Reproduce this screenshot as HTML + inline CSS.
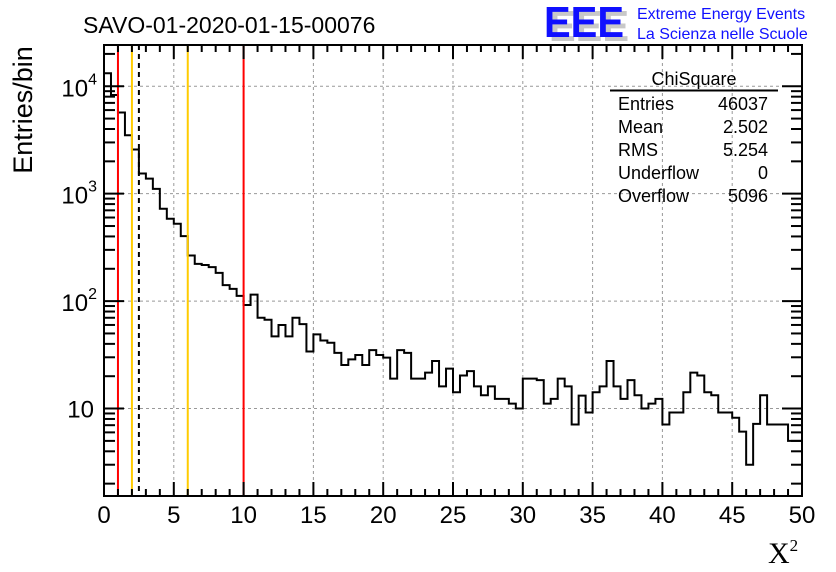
<!DOCTYPE html>
<html><head><meta charset="utf-8"><style>
body{margin:0;background:#fff;}
svg{display:block;font-family:"Liberation Sans",sans-serif;}
</style></head><body>
<svg id="chart" width="836" height="572" viewBox="0 0 836 572" xmlns="http://www.w3.org/2000/svg">
<rect width="836" height="572" fill="#fff"/>
<text x="83" y="33" font-size="23">SAVO-01-2020-01-15-00076</text>
<g>
<text x="549" y="41" font-size="44" font-weight="bold" fill="#c8c8c8" textLength="80" lengthAdjust="spacingAndGlyphs">EEE</text>
<text x="544" y="37" font-size="44" font-weight="bold" fill="#1010ff" textLength="80" lengthAdjust="spacingAndGlyphs">EEE</text>
<text x="637" y="19" font-size="16" fill="#1010ff">Extreme Energy Events</text>
<text x="637" y="39" font-size="16" fill="#1010ff">La Scienza nelle Scuole</text>
</g>
<g id="grid"></g>
<g id="marks"></g>
<g id="axes"></g>
<text transform="translate(32,110) rotate(-90)" text-anchor="middle" font-size="27">Entries/bin</text>
<text x="768" y="563" font-family="'Liberation Serif',serif" font-size="30">X<tspan font-size="17" dy="-12">2</tspan></text>
<g>
<text x="694" y="85" font-size="18" text-anchor="middle">ChiSquare</text>
<line x1="610" y1="90.5" x2="778" y2="90.5" stroke="#000" stroke-width="2"/>
<text x="618" y="110" font-size="18">Entries</text><text x="768" y="110" font-size="18" text-anchor="end">46037</text>
<text x="618" y="133" font-size="18">Mean</text><text x="768" y="133" font-size="18" text-anchor="end">2.502</text>
<text x="618" y="156" font-size="18">RMS</text><text x="768" y="156" font-size="18" text-anchor="end">5.254</text>
<text x="618" y="179" font-size="18">Underflow</text><text x="768" y="179" font-size="18" text-anchor="end">0</text>
<text x="618" y="202" font-size="18">Overflow</text><text x="768" y="202" font-size="18" text-anchor="end">5096</text>
</g>
</svg>
<script>
const counts = [13200,8300,5700,3500,2580,1540,1380,1110,724,584,
525,403,266,222,217,207,183,141,130,112,
92,115,70,67,47,60,47,70,61,34,
49,43,41,33,25.4,28.7,31.5,25.4,35,31.5,
29.8,19,35,33,19,19,21.6,27.7,16.1,23.5,
14.2,20.3,22.3,16.1,13.3,16.1,12.3,12.3,11.1,10,
19,19,18.4,11.1,12.3,19,16.1,7.1,13.2,9.2,
14.2,16.1,27.7,16.1,12.3,18.4,13.3,10,11.1,12.3,
7.1,9.2,9.2,14.2,21.6,20.3,14.2,13.3,9.2,9.2,
8.2,6.1,3.0,7.2,13.3,7.1,7.1,7.1,5.0,5.0];
const xRange = [0,50];
const xTickLabels = ["0","5","10","15","20","25","30","35","40","45","50"];
const yTickExps = [1,2,3,4];
const redLines = [1,10];
const yellowLines = [2,6];
const meanLine = [2.5];

const L=104,R=802,T=45,B=496;
const yLogMin=0.186, yLogMax=4.384;
const NS="http://www.w3.org/2000/svg";
function sx(v){return L+(v-xRange[0])/(xRange[1]-xRange[0])*(R-L);}
function sy(v){return B-(Math.log10(v)-yLogMin)/(yLogMax-yLogMin)*(B-T);}
function mk(tag,attrs,parent){const e=document.createElementNS(NS,tag);for(const k in attrs)e.setAttribute(k,attrs[k]);parent.appendChild(e);return e;}
const grid=document.getElementById('grid'),marks=document.getElementById('marks'),axes=document.getElementById('axes');
for(let i=1;i<xTickLabels.length-1;i++){const x=sx(+xTickLabels[i]);
 const g=mk('line',{x1:x,x2:x,y1:T,y2:B,stroke:'#999','stroke-dasharray':'3,3','stroke-width':1},grid);
 
 }
yTickExps.forEach(e=>{const y=sy(Math.pow(10,e));
 const g=mk('line',{x1:L,x2:R,y1:y,y2:y,stroke:'#999','stroke-dasharray':'3,3','stroke-width':1},grid);
 
 });
const bw=(xRange[1]-xRange[0])/counts.length;
let d='M'+sx(0)+' '+B;
counts.forEach((c,i)=>{const y=sy(c);d+=' L'+sx(i*bw)+' '+y+' L'+sx((i+1)*bw)+' '+y;});
d+=' L'+sx(xRange[1])+' '+sy(counts[counts.length-1]);
const h=mk('path',{d:d,fill:'none',stroke:'#000','stroke-width':2},marks);


redLines.forEach(v=>{const l=mk('line',{x1:sx(v),x2:sx(v),y1:T,y2:B,stroke:'#ff0000','stroke-width':2},marks);
 
 });
yellowLines.forEach(v=>{const l=mk('line',{x1:sx(v),x2:sx(v),y1:T,y2:B,stroke:'#ffcc00','stroke-width':2},marks);
 
 });
meanLine.forEach(v=>{const l=mk('line',{x1:sx(v),x2:sx(v),y1:T,y2:B,stroke:'#000','stroke-width':2,'stroke-dasharray':'5,4'},marks);
 
 });
const f=mk('rect',{x:L,y:T,width:R-L,height:B-T,fill:'none',stroke:'#000','stroke-width':2},axes);


for(let v=xRange[0];v<=xRange[1];v++){const x=sx(v);const len=(v%5===0)?14:7;
 mk('line',{x1:x,x2:x,y1:B,y2:B-len,stroke:'#000','stroke-width':2},axes);
 mk('line',{x1:x,x2:x,y1:T,y2:T+len,stroke:'#000','stroke-width':2},axes);}
xTickLabels.forEach(s=>{const t=mk('text',{x:sx(+s),y:523,'font-size':24,'text-anchor':'middle'},axes);t.textContent=s;
 
 });
for(let e=0;e<=4;e++){for(let m=1;m<10;m++){const v=m*Math.pow(10,e);const lg=Math.log10(v);
 if(lg<yLogMin||lg>yLogMax)continue;const y=sy(v);const len=m===1?20:11;
 mk('line',{x1:L,x2:L+len,y1:y,y2:y,stroke:'#000','stroke-width':2},axes);
 mk('line',{x1:R,x2:R-len,y1:y,y2:y,stroke:'#000','stroke-width':2},axes);}}
yTickExps.forEach(e=>{const y=sy(Math.pow(10,e));let t;
 if(e===1){t=mk('text',{x:94,y:y+9,'font-size':24,'text-anchor':'end'},axes);t.textContent='10';}
 else{t=mk('text',{x:97,y:y+10,'font-size':24,'text-anchor':'end'},axes);
  t.appendChild(document.createTextNode('10'));
  const ts=mk('tspan',{'font-size':16,dy:-12},t);ts.textContent=String(e);}
 
 });
</script>
</body></html>
